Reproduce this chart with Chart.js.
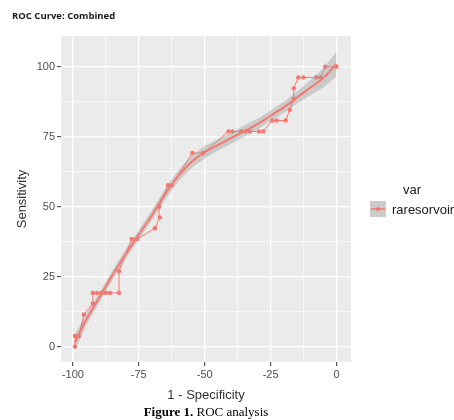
<!DOCTYPE html>
<html>
<head>
<meta charset="utf-8">
<script src="https://cdn.jsdelivr.net/npm/chart.js@4.4.1/dist/chart.umd.min.js"></script>
<style>
  html, body { margin: 0; padding: 0; background: #fff; }
  canvas { display: block; }
</style>
</head>
<body>
<canvas id="roc" width="454" height="420"></canvas>
<script>
// ROC curve: observed points + loess smooth with confidence band
const fprX = [-99.2, -99.2, -97.7, -95.8, -92.4, -92.4, -90.8, -89.1, -87.5, -85.9, -82.5, -82.5,
  -77.7, -75.5, -68.9, -67, -67.3, -63.9, -62.5, -54.7, -50.5,
  -41, -39.5, -36.1, -34.5, -32.8, -29.4, -27.8, -24.4, -22.7, -19.3,
  -17.7, -16.2, -16.2, -14.5, -12.6, -7.7, -6.1, -4.3, 0];
const tprY = [0, 3.8, 3.8, 11.5, 15.4, 19.2, 19.2, 19.2, 19.2, 19.2, 19.2, 26.9,
  38.5, 38.5, 42.3, 46.2, 50, 57.7, 57.7, 69.2, 69.2,
  76.9, 76.9, 76.9, 76.9, 76.9, 76.9, 76.9, 80.8, 80.8, 80.8,
  84.6, 88.5, 92.3, 96.2, 96.2, 96.2, 96.2, 100, 100];

// smoothed fit
const smoothX = [-99.2, -95, -90, -85, -80, -75, -70, -65, -60, -55, -50, -45, -40, -35, -30, -25, -20, -15, -10, -5, 0];
const smoothY = [1.5, 9.5, 17.5, 25.5, 33, 40, 47, 54.5, 61, 66, 69.5, 72, 74.5, 77, 79.5, 82.5, 85.5, 89, 92.5, 96, 101];
const smoothLo = [-1.5, 7.5, 15.8, 23.8, 31.3, 38.3, 45.2, 52.6, 59, 63.8, 67.2, 70, 72.5, 75, 77.6, 80.6, 83.5, 86.8, 89.8, 92.6, 96.5];
const smoothHi = [4.5, 11.5, 19.2, 27.2, 34.7, 41.7, 48.8, 56.4, 63, 68.2, 71.8, 74, 76.5, 79, 81.4, 84.4, 87.5, 91.2, 95.2, 99.4, 105.5];

const xTicks = [-100, -75, -50, -25, 0];
const xMinor = [-87.5, -62.5, -37.5, -12.5];
const yTicks = [0, 25, 50, 75, 100];
const yMinor = [12.5, 37.5, 62.5, 87.5];

const legendTitle = "var";
const seriesName = "raresorvoir";
const lineColor = "#F8766D";

function pts(xs, ys) { return xs.map((x, i) => ({ x: x, y: ys[i] })); }

// grey panel behind the plot
const panelBg = {
  id: "panelBg",
  beforeDraw(chart) {
    const a = chart.chartArea, c = chart.ctx;
    c.save();
    c.fillStyle = "#fff";
    c.fillRect(0, 0, chart.width, chart.height);
    c.fillStyle = "#EBEBEB";
    c.fillRect(a.left, a.top, a.right - a.left, a.bottom - a.top);
    c.restore();
  }
};

// titles, legend and caption
const texts = {
  id: "texts",
  afterDraw(chart) {
    const c = chart.ctx, a = chart.chartArea;
    const cx = (a.left + a.right) / 2;
    c.save();
    c.fillStyle = "#1a1a1a";
    c.textBaseline = "middle";
    c.font = "bold 9.5px 'Open Sans'";
    c.textAlign = "left";
    c.fillText("ROC Curve: Combined", 12, 16);

    c.fillStyle = "#333";
    c.font = "13px 'Liberation Sans'";
    c.textAlign = "center";
    c.fillText("1 - Specificity", cx, 395);
    c.save();
    c.translate(22, (a.top + a.bottom) / 2);
    c.rotate(-Math.PI / 2);
    c.fillText("Sensitivity", 0, 0);
    c.restore();

    // legend
    c.textAlign = "left";
    c.fillStyle = "#1a1a1a";
    c.fillText(legendTitle, 403, 190);
    c.fillStyle = "#CBCBCB";
    c.fillRect(370, 201, 16, 16);
    c.strokeStyle = lineColor;
    c.lineWidth = 1.5;
    c.beginPath();
    c.moveTo(371, 209);
    c.lineTo(385, 209);
    c.stroke();
    c.fillStyle = lineColor;
    c.beginPath();
    c.arc(378, 209, 2, 0, Math.PI * 2);
    c.fill();
    c.fillStyle = "#1a1a1a";
    c.fillText(seriesName, 392, 210);

    // caption
    c.fillStyle = "#000";
    c.font = "bold 13px 'Liberation Serif'";
    const p1 = "Figure 1.";
    const w1 = c.measureText(p1 + " ").width;
    c.font = "13px 'Liberation Serif'";
    const p2 = "ROC analysis";
    const w2 = c.measureText(p2).width;
    const x0 = 206 - (w1 + w2) / 2;
    c.font = "bold 13px 'Liberation Serif'";
    c.fillText(p1, x0, 413);
    c.font = "13px 'Liberation Serif'";
    c.fillText(p2, x0 + w1, 413);
    c.restore();
  }
};

function gridFor(major) {
  return {
    color: "#fff",
    lineWidth: ctx => (ctx.tick && major.includes(ctx.tick.value)) ? 1.3 : 0.6,
    tickColor: ctx => (ctx.tick && major.includes(ctx.tick.value)) ? "#333" : "rgba(0,0,0,0)",
    tickLength: 4,
    tickWidth: 1
  };
}

const ctx = document.getElementById("roc").getContext("2d");
new Chart(ctx, {
  type: "line",
  data: {
    datasets: [
      {
        label: "se-upper",
        data: pts(smoothX, smoothHi),
        borderWidth: 0,
        pointRadius: 0,
        backgroundColor: "rgba(153,153,153,0.4)",
        fill: "+1",
        order: 2
      },
      {
        label: "se-lower",
        data: pts(smoothX, smoothLo),
        borderWidth: 0,
        pointRadius: 0,
        fill: false,
        order: 2
      },
      {
        label: "smooth",
        data: pts(smoothX, smoothY),
        borderColor: lineColor,
        borderWidth: 2,
        pointRadius: 0,
        tension: 0.4,
        fill: false,
        order: 1
      },
      {
        label: seriesName,
        data: pts(fprX, tprY),
        borderColor: lineColor,
        borderWidth: 1,
        pointRadius: 2.2,
        pointBackgroundColor: lineColor,
        pointBorderWidth: 0,
        fill: false,
        order: 3
      }
    ]
  },
  options: {
    responsive: false,
    animation: false,
    layout: { padding: { top: 36, right: 103, left: 0, bottom: 0 } },
    plugins: { legend: { display: false }, tooltip: { enabled: false }, title: { display: false } },
    scales: {
      x: {
        type: "linear",
        min: -104.5,
        max: 5.5,
        afterFit: s => { s.height = 58; },
        afterBuildTicks: s => { s.ticks = xTicks.concat(xMinor).sort((a, b) => a - b).map(v => ({ value: v })); },
        grid: gridFor(xTicks),
        border: { display: false },
        ticks: {
          callback: v => xTicks.includes(v) ? String(v) : "",
          color: "#4D4D4D",
          font: { family: "Liberation Sans", size: 11 },
          padding: 2,
          maxRotation: 0,
          autoSkip: false
        }
      },
      y: {
        type: "linear",
        min: -5.5,
        max: 111,
        afterFit: s => { s.width = 61; },
        afterBuildTicks: s => { s.ticks = yTicks.concat(yMinor).sort((a, b) => a - b).map(v => ({ value: v })); },
        grid: gridFor(yTicks),
        border: { display: false },
        ticks: {
          callback: v => yTicks.includes(v) ? String(v) : "",
          color: "#4D4D4D",
          font: { family: "Liberation Sans", size: 11 },
          padding: 2,
          autoSkip: false
        }
      }
    }
  },
  plugins: [panelBg, texts]
});
</script>
</body>
</html>
